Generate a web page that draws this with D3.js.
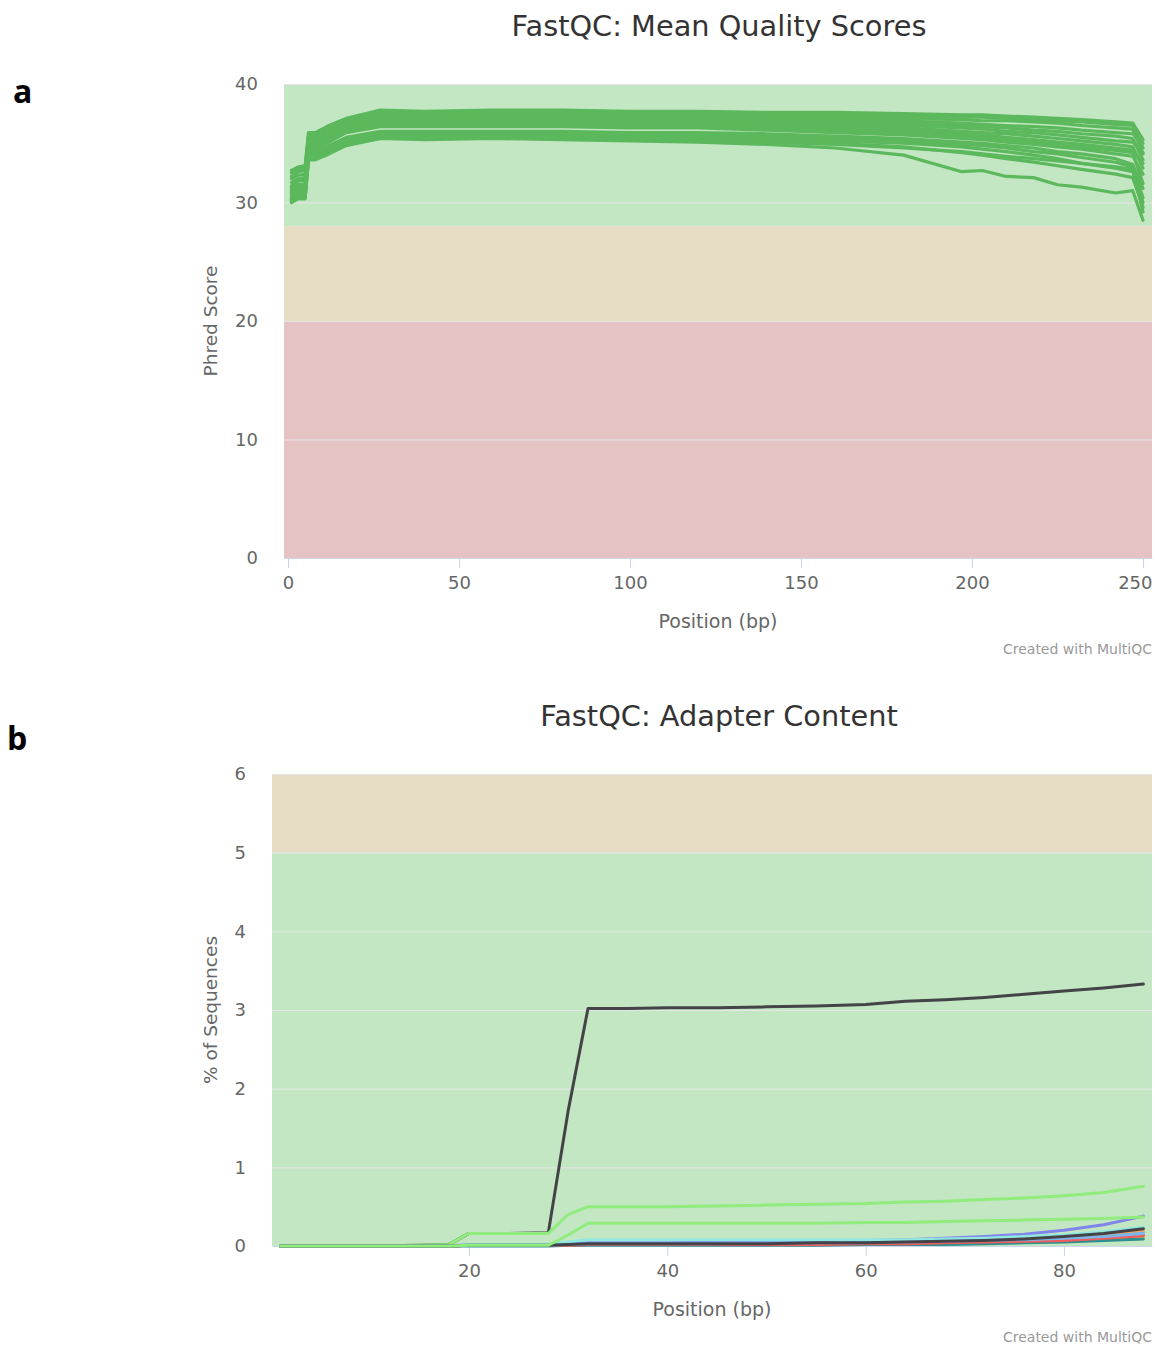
<!DOCTYPE html>
<html>
<head>
<meta charset="utf-8">
<script src="https://cdn.jsdelivr.net/npm/d3@7"></script>
<style>
  body { margin: 0; background: #fff; }
  svg { font-family: "DejaVu Sans", sans-serif; }
</style>
</head>
<body>
<svg id="chart" width="1155" height="1346"></svg>
<script>
// data - mean quality scores (one array per sample, values at qualPositions)
const qualPositions = [1, 3, 5, 6, 8, 12, 17, 27, 40, 60, 80, 100, 120, 140, 160, 180, 197, 203, 210, 218, 225, 232, 242, 247, 250];
const qualSeries = [
  [32.7,33.0,33.1,35.9,35.9,36.5,37.1,37.8,37.7,37.8,37.8,37.7,37.7,37.6,37.6,37.5,37.4,37.4,37.3,37.2,37.1,37.0,36.8,36.7,35.3],
  [32.5,32.8,32.9,35.7,35.8,36.3,37.0,37.6,37.6,37.6,37.6,37.6,37.6,37.5,37.4,37.3,37.2,37.2,37.1,37.0,36.9,36.8,36.6,36.5,34.6],
  [32.2,32.6,32.7,35.5,35.6,36.2,36.9,37.5,37.4,37.5,37.5,37.4,37.4,37.3,37.2,37.1,37.0,36.9,36.9,36.8,36.7,36.5,36.3,36.2,34.1],
  [32.0,32.3,32.4,35.3,35.4,36.0,36.7,37.3,37.3,37.3,37.3,37.3,37.2,37.2,37.0,36.9,36.7,36.6,36.5,36.4,36.3,36.1,35.9,35.8,35.0],
  [31.7,32.0,32.1,35.1,35.2,35.9,36.6,37.2,37.1,37.2,37.1,37.1,37.1,37.0,36.9,36.7,36.5,36.4,36.3,36.1,36.0,35.8,35.6,35.4,33.6],
  [31.4,31.8,31.9,34.9,35.0,35.7,36.4,37.0,37.0,37.0,37.0,37.0,36.9,36.8,36.7,36.5,36.3,36.2,36.0,35.9,35.7,35.5,35.2,35.1,34.2],
  [31.2,31.5,31.6,34.7,34.9,35.5,36.3,36.9,36.8,36.9,36.8,36.8,36.8,36.7,36.5,36.3,36.0,35.9,35.8,35.6,35.4,35.2,34.9,34.7,32.9],
  [31.0,31.3,31.4,34.6,34.7,35.4,36.1,36.7,36.7,36.7,36.7,36.7,36.6,36.5,36.3,36.1,35.8,35.7,35.5,35.3,35.1,34.9,34.6,34.4,33.3],
  [30.8,31.1,31.2,34.4,34.5,35.2,36.0,36.6,36.5,36.6,36.5,36.5,36.4,36.3,36.1,35.9,35.6,35.5,35.3,35.1,34.9,34.7,34.4,34.2,31.6],
  [30.7,31.0,31.0,34.3,34.4,35.1,35.9,36.4,36.4,36.4,36.4,36.3,36.3,36.1,35.9,35.7,35.4,35.3,35.1,34.9,34.7,34.5,34.1,33.9,32.4],
  [30.5,30.8,30.9,34.1,34.2,34.8,35.5,36.0,36.0,36.0,36.0,35.9,35.9,35.8,35.6,35.4,35.1,35.0,34.8,34.6,34.3,34.1,33.7,33.2,31.2],
  [30.4,30.7,30.7,34.0,34.0,34.6,35.3,35.8,35.8,35.8,35.8,35.7,35.7,35.6,35.4,35.2,34.9,34.8,34.6,34.3,34.1,33.8,33.4,33.0,30.4],
  [30.3,30.6,30.6,33.9,33.9,34.5,35.1,35.6,35.6,35.6,35.6,35.6,35.5,35.4,35.2,35.0,34.7,34.5,34.3,34.0,33.7,33.3,32.9,32.6,30.0],
  [30.2,30.5,30.5,33.8,33.8,34.3,35.0,35.5,35.5,35.5,35.5,35.4,35.4,35.3,35.0,34.7,34.2,34.0,33.7,33.4,33.1,32.8,32.4,32.1,29.6],
  [30.1,30.4,30.4,33.7,33.7,34.2,34.9,35.4,35.4,35.4,35.4,35.3,35.2,35.1,34.9,34.6,34.3,34.1,33.9,33.7,33.5,33.3,33.0,32.8,29.2],
  [30.0,30.3,30.3,33.6,33.6,34.1,34.8,35.4,35.3,35.4,35.3,35.2,35.1,34.9,34.6,34.0,32.6,32.7,32.2,32.1,31.5,31.3,30.8,31.0,28.5]
];
const qualXTicks = [0, 50, 100, 150, 200, 250];
const qualYTicks = [0, 10, 20, 30, 40];

// data - adapter content (% of sequences, values at adapterPositions)
const adapterPositions = [1, 5, 10, 15, 18, 20, 24, 28, 30, 32, 36, 40, 45, 50, 55, 60, 64, 68, 72, 76, 80, 84, 88];
const adapterSeries = [
  [0,0,0,0,0,0.01,0.01,0.01,0.02,0.03,0.03,0.03,0.03,0.03,0.04,0.04,0.05,0.06,0.07,0.08,0.1,0.13,0.18],
  [0,0,0,0.01,0.02,0.16,0.16,0.17,1.72,3.02,3.02,3.03,3.03,3.04,3.05,3.07,3.11,3.13,3.16,3.2,3.24,3.28,3.33],
  [0,0,0,0.01,0.02,0.16,0.16,0.16,0.4,0.5,0.5,0.5,0.51,0.52,0.53,0.54,0.56,0.57,0.59,0.61,0.64,0.68,0.76],
  [0,0,0,0,0,0.01,0.01,0.01,0.02,0.03,0.03,0.03,0.03,0.04,0.04,0.05,0.05,0.06,0.08,0.09,0.11,0.15,0.2],
  [0,0,0,0,0,0.02,0.02,0.02,0.03,0.04,0.04,0.04,0.05,0.05,0.06,0.07,0.08,0.1,0.12,0.15,0.2,0.27,0.38],
  [0,0,0,0,0,0.01,0.01,0.01,0.01,0.02,0.02,0.02,0.02,0.02,0.03,0.03,0.04,0.04,0.05,0.06,0.08,0.1,0.14],
  [0,0,0,0,0,0.01,0.01,0.01,0.01,0.02,0.02,0.02,0.02,0.03,0.03,0.03,0.04,0.04,0.05,0.06,0.07,0.09,0.12],
  [0,0,0,0,0,0,0,0,0.01,0.01,0.01,0.01,0.01,0.01,0.01,0.02,0.02,0.02,0.03,0.04,0.05,0.07,0.09],
  [0,0,0,0,0,0.01,0.01,0.01,0.01,0.02,0.02,0.02,0.02,0.02,0.02,0.03,0.03,0.04,0.05,0.06,0.07,0.1,0.13],
  [0,0,0,0,0,0.02,0.02,0.02,0.05,0.08,0.08,0.08,0.08,0.08,0.08,0.08,0.08,0.09,0.1,0.12,0.14,0.18,0.24],
  [0,0,0,0,0,0.01,0.01,0.01,0.02,0.03,0.03,0.03,0.03,0.04,0.04,0.04,0.05,0.06,0.07,0.08,0.1,0.12,0.16],
  [0,0,0,0,0,0.01,0.01,0.01,0.02,0.03,0.03,0.03,0.03,0.03,0.04,0.04,0.05,0.06,0.07,0.09,0.12,0.16,0.22],
  [0,0,0,0,0,0.01,0.01,0.01,0.14,0.29,0.29,0.29,0.29,0.29,0.29,0.3,0.3,0.31,0.32,0.33,0.34,0.35,0.37]
];
const adapterColors = ['#7cb5ec', '#434348', '#90ed7d', '#f7a35c', '#8085e9', '#f15c80', '#e4d354', '#2b908f', '#f45b5b', '#91e8e1', '#7cb5ec', '#434348', '#90ed7d'];
const adapterXTicks = [20, 40, 60, 80];
const adapterYTicks = [0, 1, 2, 3, 4, 5, 6];

// svg
const svg = d3.select('#chart');

function panel(o) {
  const x = d3.scaleLinear().domain(o.xDomain).range([o.left, o.right]);
  const y = d3.scaleLinear().domain(o.yDomain).range([o.bottom, o.top]);
  const g = svg.append('g');

  // bands
  g.selectAll('rect.band')
    .data(o.bands)
    .join('rect')
    .attr('x', o.left)
    .attr('width', o.right - o.left)
    .attr('y', d => y(d.to))
    .attr('height', d => y(d.from) - y(d.to))
    .attr('fill', d => d.color);

  // grid lines
  g.append('g')
    .selectAll('line')
    .data(o.yTicks.filter(t => t > 0))
    .join('line')
    .attr('x1', o.left).attr('x2', o.right)
    .attr('y1', d => y(d) + 0.5).attr('y2', d => y(d) + 0.5)
    .attr('stroke', '#e6e6e6')
    .attr('stroke-width', 1);

  // y axis labels
  g.append('g')
    .attr('transform', `translate(${o.left}, 0)`)
    .call(d3.axisLeft(y).tickValues(o.yTicks).tickFormat(d3.format('d')).tickSize(0).tickPadding(26))
    .call(a => a.select('.domain').remove())
    .call(a => a.selectAll('text')
      .attr('fill', '#666').attr('font-size', 18).attr('font-family', '"DejaVu Sans", sans-serif'));

  // x axis
  g.append('g')
    .attr('transform', `translate(0, ${o.bottom})`)
    .call(d3.axisBottom(x).tickValues(o.xTicks).tickSize(10).tickSizeOuter(0))
    .call(a => a.select('.domain').attr('stroke', '#ccd6eb'))
    .call(a => a.selectAll('.tick line').attr('stroke', '#ccd6eb'))
    .call(a => a.selectAll('text')
      .attr('y', 25).attr('dy', '0.35em')
      .attr('fill', '#666').attr('font-size', 18).attr('font-family', '"DejaVu Sans", sans-serif'))
    .call(a => a.selectAll('.tick text')
      .filter(d => x(d) + 20 > o.right)
      .attr('text-anchor', 'end')
      .attr('x', d => o.right - x(d)));

  // lines
  const line = d3.line()
    .x((d, i) => x(o.positions[i]))
    .y(d => y(d));
  g.append('g')
    .attr('fill', 'none')
    .attr('stroke-width', o.lineWidth)
    .attr('stroke-linejoin', 'round')
    .attr('stroke-linecap', 'round')
    .selectAll('path')
    .data(o.series)
    .join('path')
    .attr('stroke', (d, i) => o.color(i))
    .attr('d', line);

  // titles
  svg.append('text')
    .attr('x', 719).attr('y', o.titleY)
    .attr('text-anchor', 'middle')
    .attr('font-size', 28.8).attr('fill', '#333')
    .text(o.title);
  svg.append('text')
    .attr('x', (o.left + o.right) / 2).attr('y', o.bottom + 63)
    .attr('dy', '0.35em')
    .attr('text-anchor', 'middle')
    .attr('font-size', 19).attr('fill', '#666')
    .text(o.xLabel);
  svg.append('text')
    .attr('transform', `translate(211, ${(o.top + o.bottom) / 2}) rotate(-90)`)
    .attr('dy', '0.35em')
    .attr('text-anchor', 'middle')
    .attr('font-size', 18.5).attr('fill', '#666')
    .text(o.yLabel);
  svg.append('text')
    .attr('x', o.right).attr('y', o.bottom + 91)
    .attr('dy', '0.35em')
    .attr('text-anchor', 'end')
    .attr('font-size', 14).attr('fill', '#999')
    .text('Created with MultiQC');
  svg.append('text')
    .attr('x', o.letterX).attr('y', o.letterY)
    .attr('dy', '0.35em')
    .attr('font-family', '"Open Sans", sans-serif')
    .attr('font-weight', 'bold')
    .attr('font-size', 32).attr('fill', '#000')
    .text(o.letter);
}

panel({
  left: 284, right: 1152, top: 84, bottom: 558,
  xDomain: [-1.17, 252.63], yDomain: [0, 40],
  bands: [
    { from: 28, to: 40, color: '#c3e6c3' },
    { from: 20, to: 28, color: '#e6dcc3' },
    { from: 0, to: 20, color: '#e6c3c3' }
  ],
  xTicks: qualXTicks, yTicks: qualYTicks,
  positions: qualPositions, series: qualSeries,
  color: () => '#5cb85c', lineWidth: 3.2,
  title: 'FastQC: Mean Quality Scores', titleY: 36,
  xLabel: 'Position (bp)', yLabel: 'Phred Score',
  letter: 'a', letterX: 13, letterY: 92
});

panel({
  left: 272, right: 1152, top: 774, bottom: 1246,
  xDomain: [0.135, 88.87], yDomain: [0, 6],
  bands: [
    { from: 5, to: 6, color: '#e6dcc3' },
    { from: 0, to: 5, color: '#c3e6c3' }
  ],
  xTicks: adapterXTicks, yTicks: adapterYTicks,
  positions: adapterPositions, series: adapterSeries,
  color: i => adapterColors[i], lineWidth: 3,
  title: 'FastQC: Adapter Content', titleY: 726,
  xLabel: 'Position (bp)', yLabel: '% of Sequences',
  letter: 'b', letterX: 7, letterY: 739
});
</script>
</body>
</html>
